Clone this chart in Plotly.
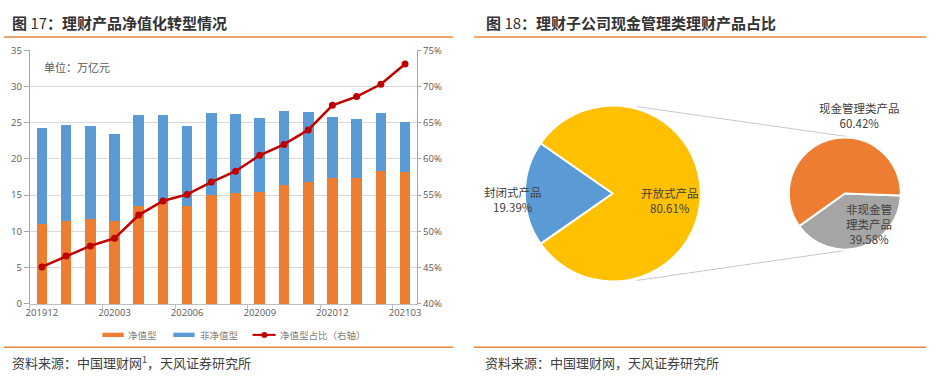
import plotly.graph_objects as go

W, H = 941, 387
def X(px): return px / W
def Y(py): return 1 - py / H

# ---------------- data ----------------
months = ["201912", "202001", "202002", "202003", "202004", "202005", "202006", "202007",
          "202008", "202009", "202010", "202011", "202012", "202101", "202102", "202103"]
net_value = [11.0, 11.5, 11.75, 11.4, 13.55, 14.1, 13.5, 15.0,
             15.3, 15.45, 16.4, 16.85, 17.35, 17.4, 18.4, 18.25]
non_net_value = [13.2, 13.2, 12.85, 12.0, 12.45, 11.9, 11.0, 11.4,
                 10.95, 10.15, 10.15, 9.65, 8.5, 8.05, 8.0, 6.8]
net_ratio = [45.1, 46.6, 48.0, 49.05, 52.25, 54.2, 55.1, 56.8,
             58.3, 60.5, 62.0, 64.0, 67.4, 68.6, 70.3, 73.1]
tick_labels = ["201912", "202003", "202006", "202009", "202012", "202103"]

main_labels = ["封闭式产品", "开放式产品"]
main_values = [19.39, 80.61]
sub_labels = ["非现金管理类产品", "现金管理类产品"]
sub_values = [39.58, 60.42]

ORANGE = "#ED7D31"
BLUE = "#5B9BD5"
RED = "#C00000"
YELLOW = "#FFC000"
GRAY = "#A5A5A5"
FONT = "Noto Sans CJK SC"
NUMFONT = "Open Sans, Noto Sans CJK SC"

fig = go.Figure()

fig.add_trace(go.Bar(x=months, y=net_value, name="净值型", marker=dict(color=ORANGE, line=dict(width=0)),
                     showlegend=False))
fig.add_trace(go.Bar(x=months, y=non_net_value, name="非净值型", marker=dict(color=BLUE, line=dict(width=0)),
                     showlegend=False))
fig.add_trace(go.Scatter(x=months, y=net_ratio, name="净值型占比（右轴）", yaxis="y2", mode="lines+markers",
                         line=dict(color=RED, width=2.5), marker=dict(color=RED, size=7),
                         showlegend=False))

# main pie (center 614,193 r 91)
fig.add_trace(go.Pie(labels=main_labels, values=main_values, sort=False, direction="clockwise",
                     rotation=235.1, textinfo="none", showlegend=False,
                     marker=dict(colors=[BLUE, YELLOW], line=dict(color="white", width=2)),
                     domain=dict(x=[X(523), X(705)], y=[Y(284), Y(102)])))
# secondary pie (center 848,193 r 58)
fig.add_trace(go.Pie(labels=sub_labels, values=sub_values, sort=False, direction="clockwise",
                     rotation=92, textinfo="none", showlegend=False,
                     marker=dict(colors=[GRAY, ORANGE], line=dict(color="white", width=2)),
                     domain=dict(x=[X(790), X(906)], y=[Y(251), Y(135)])))

tickfont = dict(family=NUMFONT, size=9.5, color="#595959")
fig.update_layout(
    width=W, height=H, margin=dict(l=0, r=0, t=0, b=0),
    paper_bgcolor="white", plot_bgcolor="white",
    barmode="stack", bargap=0.56,
    font=dict(family=FONT),
    xaxis=dict(type="category", domain=[X(26), X(416.7)], anchor="y", range=[-0.5, 15.5],
               tickmode="array", tickvals=tick_labels, ticktext=tick_labels, tickangle=0,
               ticks="outside", tickson="boundaries", ticklen=4, tickcolor="#bfbfbf",
               showline=True, linecolor="#bfbfbf", linewidth=1, showgrid=False,
               tickfont=tickfont, fixedrange=True),
    yaxis=dict(domain=[Y(307.2), Y(44.7)], range=[0, 35], dtick=5, anchor="x",
               showline=True, linecolor="#a6a6a6", ticks="outside", ticklen=5, tickcolor="#a6a6a6",
               gridcolor="#d9d9d9", zeroline=False, tickfont=tickfont),
    yaxis2=dict(overlaying="y", side="right", anchor="x", range=[40, 75], dtick=5, ticksuffix="%",
                showline=True, linecolor="#a6a6a6", ticks="outside", ticklen=3, tickcolor="#a6a6a6",
                showgrid=False, zeroline=False, tickfont=tickfont),
)

shapes = []
LINE_OR = "#E3883E"
for (x0, x1) in [(0, 453), (474, 930)]:
    for yy in [31, 352]:
        shapes.append(dict(type="line", xref="paper", yref="paper", x0=X(x0), x1=X(x1), y0=Y(yy), y1=Y(yy),
                           line=dict(color=LINE_OR, width=1.5)))
# pie-of-pie connector lines
for (a, b) in [((638, 103), (850, 134)), ((638, 283), (848, 252))]:
    shapes.append(dict(type="line", xref="paper", yref="paper", x0=X(a[0]), y0=Y(a[1]), x1=X(b[0]), y1=Y(b[1]),
                       line=dict(color="#C8C8C8", width=1), layer="below"))
# legend swatches
shapes.append(dict(type="rect", xref="paper", yref="paper", x0=X(99.3), x1=X(120.7), y0=Y(341.5), y1=Y(337),
                   fillcolor=ORANGE, line=dict(width=0)))
shapes.append(dict(type="rect", xref="paper", yref="paper", x0=X(170.7), x1=X(192.3), y0=Y(341.5), y1=Y(337),
                   fillcolor=BLUE, line=dict(width=0)))
shapes.append(dict(type="line", xref="paper", yref="paper", x0=X(250.7), x1=X(274), y0=Y(339.3), y1=Y(339.3),
                   line=dict(color=RED, width=2)))
shapes.append(dict(type="circle", xref="paper", yref="paper", x0=X(259.6), x1=X(265.6), y0=Y(342.3), y1=Y(336.3),
                   fillcolor=RED, line=dict(width=0)))
fig.update_layout(shapes=shapes)

ann = []
def text(x, y, s, size, color="#404040", xanchor="center", **kw):
    ann.append(dict(x=X(x), y=Y(y), xref="paper", yref="paper", text=s, showarrow=False,
                    xanchor=xanchor, yanchor="middle", font=dict(family=kw.get("family", FONT), size=size, color=color),
                    align=kw.get("align", "center")))

text(6, 16.5, "<b>图 </b>17<b>：理财产品净值化转型情况</b>", 15, color="#333333", xanchor="left")
text(484, 16.5, "<b>图 </b>18<b>：理财子公司现金管理类理财产品占比</b>", 15, color="#333333", xanchor="left")
text(6, 367.5, "资料来源：中国理财网<sup>1</sup>，天风证券研究所", 13, color="#404040", xanchor="left")
text(483, 367.5, "资料来源：中国理财网，天风证券研究所", 13, color="#404040", xanchor="left")
text(38, 61.7, "单位：万亿元", 11, color="#595959", xanchor="left")
text(123, 339.3, "净值型", 9.5, color="#7f7f7f", xanchor="left")
text(195.5, 339.3, "非净值型", 9.5, color="#7f7f7f", xanchor="left")
text(276, 339.3, "净值型占比（右轴）", 9.5, color="#7f7f7f", xanchor="left")
text(513, 199.5, f"{main_labels[0]}<br>{main_values[0]:.2f}%", 11.5)
text(672, 200.5, f"{main_labels[1]}<br>{main_values[1]:.2f}%", 11.5)
text(862.5, 112.5, f"{sub_labels[1]}<br>{sub_values[1]:.2f}%", 11.5)
text(872.5, 224.5, f"非现金管<br>理类产品<br>{sub_values[0]:.2f}%", 11.5)
fig.update_layout(annotations=ann)

page_css = ("var s=document.createElement('style');"
            "s.textContent='html,body{margin:0!important;padding:0!important;overflow:hidden!important;}';"
            "document.head.appendChild(s);")
fig.write_html("out.html", config={"displayModeBar": False}, post_script=page_css)
